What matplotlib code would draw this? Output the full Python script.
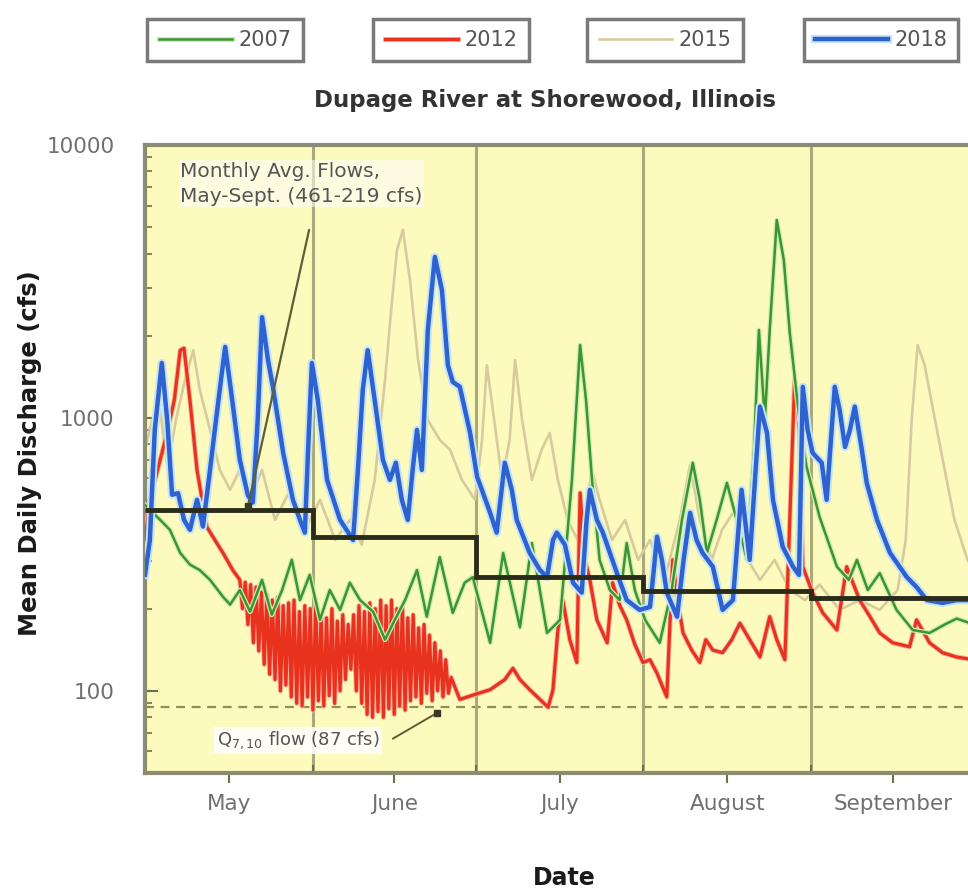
import numpy as np
import matplotlib
matplotlib.use("Agg")
import matplotlib.pyplot as plt
import matplotlib.patheffects as pe
from matplotlib.ticker import LogLocator, NullFormatter

# ---------------- data ----------------
months = ["May", "June", "July", "August", "September"]
month_days = [31, 30, 31, 31, 30]
monthly_avg = [461, 366, 262, 232, 219]      # cfs, monthly average flows
q710 = 87                                     # Q7,10 flow (cfs)

# day index: 0 = May 1
d2018 = [0, 0.9, 1.8, 3.1, 4.1, 5.0, 6.1, 7.2, 8.3, 9.6, 10.7, 12, 12.9, 13.8, 14.8, 16.1, 17.5, 19, 19.9, 20.8,
         21.6, 22.7, 23.6, 25.5, 27.3, 28.6, 29.5, 30.1, 30.8, 31.9, 33.6, 36, 38.4, 39.3, 40.2, 41.1, 42.4, 43.9,
         45.2, 46.3, 47.4, 48.5, 49.4, 50.2, 51.1, 52.2, 53.5, 54.8, 55.9, 56.8, 58.1, 60, 61.3, 63.7, 64.9, 66.4,
         67.7, 68.6, 71, 72.9, 74.2, 75.3, 76, 77.5, 79, 80.6, 81.5, 82.1, 83.4, 84.5, 87.1, 88.9, 91.3, 93.2, 93.9,
         94.5, 95.4, 96.3, 98.2, 99.4, 100.6, 101.8, 102.9, 104.8, 106.6, 108.5, 110.1, 111.6, 112.7, 113.5, 114.8,
         115.9, 117.7, 119.6, 120.7, 121.4, 122.3, 123.2, 124.9, 125.8, 127.3, 128.2, 129.2, 130.1, 131, 132.3,
         133.2, 135.1, 137.5, 140.6, 142.4, 144.3, 147.2, 149.8, 153]
q2018 = [266, 357, 904, 1590, 983, 523, 530, 423, 389, 501, 400, 645, 910, 1270, 1820, 1160, 702, 520, 490, 983,
         2340, 1630, 1300, 745, 501, 423, 380, 764, 1590, 1160, 593, 423, 357, 645, 1270, 1770, 1160, 702,
         593, 685, 501, 423, 645, 904, 645, 2100, 3890, 2940, 1560, 1355, 1300, 881, 608, 449, 380, 685,
         545, 423, 320, 277, 261, 357, 380, 343, 249, 229, 423, 545, 423, 380, 270, 215, 198, 203, 277,
         367, 302, 229, 187, 302, 449, 357, 320, 285, 198, 215, 545, 302, 645, 1100, 881,
         501, 337, 285, 266, 1300, 904, 745, 685, 501, 1300, 1070, 783, 904, 1100, 764,
         578, 423, 320, 261, 240, 215, 210, 215, 215]

d2007 = [0, 2.8, 4.6, 6.5, 8.3, 10.1, 12, 14.4, 15.7, 17.5, 19.4, 21.6, 23.4, 25.3, 27.1, 28.6, 30.4, 32.3, 34.1, 36,
         37.8, 39.7, 42.1, 44.3, 46.1, 48, 50.2, 52, 54.4, 56.8, 59, 60.5, 63.7, 66.1, 69.2, 71.4, 74.2, 76.6, 78.8,
         80.3, 81.4, 82.5, 83.9, 85.8, 87.6, 88.9, 90.4, 92.3, 95, 97.2, 99.1, 101.1, 102.4, 103.7, 105.5, 107.4,
         109.2, 111.1, 112.4, 113.3, 114.4, 115.3, 116.6, 117.9, 119, 120.8, 122.1, 124.5, 127.7, 129.9, 131.4,
         133.4, 135.6, 138.7, 141.7, 144.8, 147.6, 149.8, 153]
q2007 = [480, 423, 389, 320, 290, 277, 255, 221, 207, 234, 195, 255, 190, 234, 302, 215, 266, 182, 234, 198,
         249, 215, 195, 154, 182, 215, 277, 187, 309, 193, 249, 261, 150, 320, 171, 348, 163, 182, 593,
         1850, 1160, 593, 302, 234, 215, 348, 234, 182, 150, 234, 423, 685, 501, 320, 423, 578,
         423, 302, 764, 2100, 983, 2100, 5310, 3790, 2050, 983, 662, 434, 285, 255, 302,
         234, 270, 198, 167, 163, 175, 184, 175]

# 2012: early May, half-daily record for mid May - June, then July - September
d2012_a = [0, 0.9, 2.8, 4.2, 5.4, 6.5, 7.2, 8.3, 9.6, 11.4, 12.9, 14.4, 16.2]
q2012_a = [357, 501, 702, 904, 1160, 1770, 1800, 1160, 645, 399, 357, 320, 277]
d2012_b_start, d2012_b_step = 17.5, 0.5
q2012_b = [255, 200, 250, 175, 245, 150, 240, 140, 230, 125,
           225, 115, 215, 110, 220, 100, 205, 105, 210, 95,
           215, 90, 195, 88, 205, 95, 200, 85, 210, 92,
           190, 88, 185, 96, 200, 90, 180, 100, 190, 110,
           175, 120, 190, 100, 205, 90, 195, 82, 210, 80,
           200, 84, 215, 80, 205, 86, 215, 82, 200, 88,
           205, 85, 185, 92, 190, 95, 170, 90, 175, 98,
           160, 92, 150, 100, 140, 95, 130, 98, 112]
d2012_c = [58.1, 60.9, 63.7, 66.4, 67.9, 69.2, 71, 72.9, 74.4, 75.3, 76.2, 77.1, 78.4, 79.7, 80.3, 81.2, 82.1, 83.4,
           85.3, 86.3, 87.6, 88.9, 90.4, 91.9, 93.2, 94.5, 96.3, 97.4, 98.3, 99.3, 100.9, 102.4, 103.5, 104.8, 106.6,
           108.3, 109.8, 111.6, 113.5, 115.3, 116.6, 118.1, 119, 119.9, 120.8, 121.4, 123.2, 125.1, 127.7, 129.5,
           131.9, 133.8, 135.6, 138, 141.1, 142.4, 144.8, 147.2, 149.8, 153]
q2012_c = [93, 97, 101, 110, 121, 110, 101, 93, 87, 101, 167, 215, 154, 127, 531, 302, 255, 182,
           150, 249, 206, 182, 148, 127, 130, 116, 95, 302, 215, 163, 141, 127, 154, 141, 138,
           154, 177, 154, 133, 187, 154, 130, 423, 1380, 904, 285, 229, 193, 167, 285,
           215, 187, 163, 150, 145, 182, 150, 138, 133, 130]

d2015 = [0, 1.3, 2.8, 4.2, 5.7, 7.4, 8.9, 10.1, 12, 13.8, 15.7, 17.5, 19.4, 21.6, 24, 26.8, 29.5, 32.3, 35.1, 37.8,
         40, 42.4, 44.3, 45.6, 46.5, 47.6, 48.9, 50.4, 52.2, 54.4, 56.3, 58.5, 60.9, 62.2, 63.1, 64.2, 65.9, 67.3,
         68.3, 69.6, 71.4, 73.2, 74.7, 76.2, 78, 80.3, 82.5, 83.9, 86.2, 88.6, 91, 93.2, 95.9, 98.7, 100.6, 102.4,
         104.6, 106.5, 108.9, 110.7, 113.5, 116.2, 119, 121.8, 124.5, 128.2, 131.9, 135.6, 138.9, 140.4, 141.5,
         142.6, 143.9, 145.8, 147.6, 149.4, 151.8, 153]
q2015 = [764, 983, 1070, 645, 983, 1380, 1770, 1270, 904, 645, 545, 645, 501, 645, 423, 545, 389, 501, 357, 423,
         343, 593, 1380, 2700, 4120, 4890, 3200, 1630, 983, 831, 764, 593, 501, 831, 1560, 1070, 593, 831,
         1630, 983, 593, 764, 881, 593, 423, 343, 645, 501, 357, 423, 302, 357, 255, 423, 673, 423,
         302, 389, 461, 315, 255, 302, 234, 215, 245, 198, 215, 198, 234, 357, 983,
         1850, 1560, 983, 645, 423, 302, 277]

# ---------------- figure ----------------
W, H = 968, 890
fig = plt.figure(figsize=(W / 100, H / 100), dpi=100)
ax_l, ax_r, ax_t, ax_b = 145, 974, 145, 773
ax = fig.add_axes([ax_l / W, 1 - ax_b / H, (ax_r - ax_l) / W, (ax_b - ax_t) / H])
ax.set_facecolor("#fcfabd")

bounds = np.concatenate([[0], np.cumsum(month_days)])
centers = (bounds[:-1] + bounds[1:]) / 2

d2012 = np.concatenate([d2012_a,
                        d2012_b_start + d2012_b_step * np.arange(len(q2012_b)),
                        d2012_c])
q2012 = np.concatenate([q2012_a, q2012_b, q2012_c])

l15, = ax.plot(d2015, q2015, color="#d6cb9e", lw=1.9, zorder=2, label="2015")
l12, = ax.plot(d2012, q2012, color="#e8321e", lw=2.3, zorder=3, label="2012",
               path_effects=[pe.Stroke(linewidth=3.6, foreground="#f6b3a0"), pe.Normal()])
l07, = ax.plot(d2007, q2007, color="#3d9430", lw=1.8, zorder=4, label="2007",
               path_effects=[pe.Stroke(linewidth=3.6, foreground="#cdeeb0"), pe.Normal()])
l18, = ax.plot(d2018, q2018, color="#2f62cf", lw=3.2, zorder=5, label="2018",
               path_effects=[pe.Stroke(linewidth=6.0, foreground="#c4e4f8"), pe.Normal()])

ax.stairs(monthly_avg, bounds, baseline=None, color="#2b2b1c", lw=3.5, zorder=6)
ax.axhline(q710, color="#8f8f58", lw=1.6, ls=(0, (4, 3)), zorder=1.5)

ax.set_yscale("log")
ax.set_ylim(50, 10000)
ax.set_xlim(bounds[0], bounds[-1])

ax.set_yticks([100, 1000, 10000], labels=["100", "1000", "10000"])
ax.yaxis.set_minor_locator(LogLocator(base=10, subs=np.arange(2, 10)))
ax.yaxis.set_minor_formatter(NullFormatter())
ax.tick_params(axis="y", which="major", direction="in", length=9, width=1.5, color="#6f6f50",
               labelsize=15.5, labelcolor="#707070", pad=22)
ax.tick_params(axis="y", which="minor", direction="in", length=5, width=1.2, color="#6f6f50")

ax.set_xticks(centers, labels=months)
ax.set_xticks(bounds[1:-1], minor=True)
ax.tick_params(axis="x", which="major", direction="out", length=7, width=1.5, color="#6f6f50",
               labelsize=15.5, labelcolor="#707070", pad=8)
ax.tick_params(axis="x", which="minor", direction="in", length=6, width=1.5, color="#6f6f50")
ax.grid(True, which="minor", axis="x", color="#aaa97a", lw=2.2, zorder=1)

for s in ax.spines.values():
    s.set_color("#8c8c72")
    s.set_linewidth(3)

# annotations
ax.text(6.5, 8700, "Monthly Avg. Flows,\nMay-Sept. (461-219 cfs)", fontsize=14.5, color="#555555",
        ha="left", va="top", linespacing=1.4, zorder=7,
        bbox=dict(facecolor="white", edgecolor="none", alpha=0.55, pad=1))
ax.annotate("", xy=(19.0, 475), xytext=(30.4, 5000),
            arrowprops=dict(arrowstyle="-", color="#5e5e34", lw=1.6), zorder=7)
ax.plot([19.0], [475], marker="s", ms=5, color="#3a3a22", zorder=7)

ax.text(13.3, 66, r"Q$_{\mathrm{7,10}}$ flow (87 cfs)", fontsize=13, color="#555555",
        ha="left", va="center", zorder=7,
        bbox=dict(facecolor="white", edgecolor="none", alpha=0.85, pad=2))
ax.annotate("", xy=(53.9, 83), xytext=(45.3, 66),
            arrowprops=dict(arrowstyle="-", color="#5e5e34", lw=1.4), zorder=7)
ax.plot([53.9], [83], marker="s", ms=5, color="#3a3a22", zorder=7)

# titles / labels
fig.text(545 / W, 1 - 100 / H, "Dupage River at Shorewood, Illinois", ha="center", va="center",
         fontsize=16.5, fontweight="bold", color="#333333")
fig.text(30 / W, 1 - 453 / H, "Mean Daily Discharge (cfs)", ha="center", va="center", rotation=90,
         fontsize=17.5, fontweight="bold", color="#1a1a1a")
fig.text(564 / W, 1 - 878 / H, "Date", ha="center", va="center",
         fontsize=17, fontweight="bold", color="#1a1a1a")

# legends (one framed box per year)
leg_x = [225, 451, 665, 881]
for line, lab, cx in zip([l07, l12, l15, l18], ["2007", "2012", "2015", "2018"], leg_x):
    leg = fig.legend(handles=[line], labels=[lab], loc="center", bbox_to_anchor=(cx / W, 1 - 40 / H),
                     frameon=True, fancybox=False, edgecolor="#7a7a7a", facecolor="white", framealpha=1,
                     fontsize=15, handlelength=3.5, handletextpad=0.3, borderpad=0.55)
    leg.get_frame().set_linewidth(2.5)
    for t in leg.get_texts():
        t.set_color("#555555")

fig.savefig("out.png", dpi=100)
